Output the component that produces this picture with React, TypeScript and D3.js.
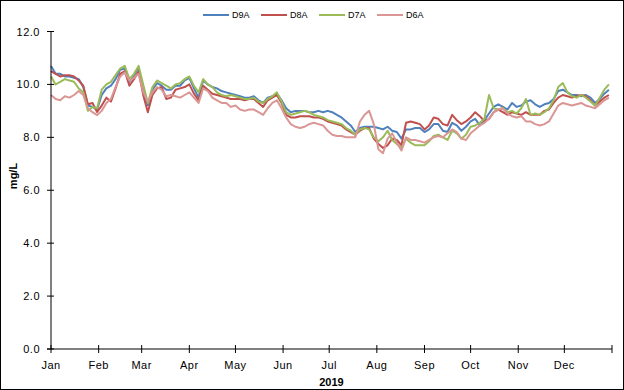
import * as d3 from "d3";

// dissolved oxygen, mg/L, one reading every 3 days through 2019
const seriesNames = ["D9A", "D8A", "D7A", "D6A"];
const seriesColors = ["#4F81BD", "#C0504D", "#9BBB59", "#D99694"];
const monthLabels = ["Jan", "Feb", "Mar", "Apr", "May", "Jun", "Jul", "Aug", "Sep", "Oct", "Nov", "Dec"];
const yTicks = [0, 2, 4, 6, 8, 10, 12];
const stepDays = 3;

const d9a = [
  10.7, 10.4, 10.4, 10.3, 10.3, 10.25, 10.2, 9.9, 9.2, 9.15, 9.05,
  9.6, 9.85, 9.95, 10.2, 10.55, 10.6, 10.1, 10.35, 10.65, 9.8, 9.2, 9.8, 10.05, 9.95,
  9.8, 9.8, 9.95, 9.95, 10.15, 10.25, 9.85, 9.5, 10.15, 10.0, 9.9, 9.85, 9.75, 9.7,
  9.65, 9.6, 9.55, 9.5, 9.5, 9.55, 9.4, 9.3, 9.5, 9.55, 9.65, 9.4, 9.1, 8.95,
  9.0, 9.0, 9.0, 8.95, 8.95, 9.0, 8.95, 9.0, 8.95, 8.85, 8.75, 8.6, 8.45, 8.2,
  8.35, 8.4, 8.4, 8.4, 8.35, 8.3, 8.4, 8.25, 8.2, 7.95, 8.3, 8.3, 8.35, 8.35,
  8.2, 8.3, 8.5, 8.5, 8.25, 8.2, 8.55, 8.45,
  8.25, 8.4, 8.6, 8.7, 8.45, 8.65, 8.9, 9.15, 9.25, 9.15, 9.05, 9.3, 9.15, 9.2,
  9.35, 9.4, 9.25, 9.15, 9.25, 9.3, 9.45, 9.75, 9.8, 9.7, 9.6, 9.6, 9.55, 9.6,
  9.5, 9.3, 9.45, 9.65, 9.8,
];
const d8a = [
  10.5, 10.4, 10.3, 10.35, 10.35, 10.3, 10.15, 9.95, 9.25, 9.3, 8.96,
  9.2, 9.5, 9.35, 9.85, 10.4, 10.5, 9.95, 10.2, 10.5, 9.6, 8.95, 9.6, 9.85, 9.9,
  9.45, 9.5, 9.8, 9.85, 9.9, 10.0, 9.65, 9.4, 9.95, 9.8, 9.65, 9.6, 9.55, 9.5,
  9.45, 9.45, 9.45, 9.4, 9.45, 9.45, 9.3, 9.15, 9.4, 9.5, 9.6, 9.3, 8.85, 8.75,
  8.75, 8.8, 8.8, 8.8, 8.75, 8.75, 8.7, 8.6, 8.55, 8.5, 8.45, 8.3, 8.2, 8.1,
  8.25, 8.35, 8.35, 7.95, 7.75, 7.6, 7.7, 7.95, 7.9, 7.7, 8.55, 8.6, 8.55, 8.5,
  8.3, 8.45, 8.75, 8.7, 8.5, 8.45, 8.85, 8.65,
  8.5, 8.6, 8.75, 8.95, 8.8, 8.6, 8.7, 8.95, 9.05, 8.95, 8.85, 8.95, 8.9, 8.85,
  8.95, 8.85, 8.85, 8.85, 9.0, 9.05, 9.3, 9.5, 9.6, 9.55, 9.5, 9.55, 9.6, 9.55,
  9.4, 9.2, 9.35, 9.5, 9.6,
];
const d7a = [
  10.3, 10.0, 10.1, 10.2, 10.15, 10.1, 9.85, 9.7, 9.0, 9.15, 9.1,
  9.8, 10.0, 10.1, 10.35, 10.6, 10.7, 10.2, 10.4, 10.7, 10.0, 9.3, 9.9, 10.15, 10.05,
  9.95, 9.85, 10.0, 10.05, 10.2, 10.3, 9.95, 9.7, 10.2, 10.0, 9.9, 9.7, 9.6, 9.55,
  9.6, 9.55, 9.5, 9.45, 9.45, 9.5, 9.35, 9.3, 9.45, 9.55, 9.7, 9.35, 8.95, 8.85,
  8.9, 8.95, 9.0, 8.95, 8.85, 8.8, 8.75, 8.65, 8.6, 8.55, 8.5, 8.35, 8.25, 8.1,
  8.3, 8.35, 8.3, 8.0, 7.85, 8.0, 8.25, 7.9, 7.75, 7.6, 7.95, 7.8, 7.7, 7.7,
  7.7, 7.85, 8.05, 8.1, 8.0, 7.9, 8.25, 8.15,
  7.95, 8.1, 8.4, 8.45, 8.55, 8.7, 9.6, 9.1, 9.05, 9.1, 8.95, 9.0, 8.9, 9.1,
  9.45, 8.85, 8.9, 8.85, 8.95, 9.1, 9.4, 9.9, 10.05, 9.7, 9.55, 9.5, 9.6, 9.5,
  9.35, 9.2, 9.5, 9.8, 10.0,
];
const d6a = [
  9.6, 9.45, 9.4, 9.55, 9.5, 9.6, 9.75, 9.6, 9.1, 8.95, 8.84,
  9.0, 9.3, 9.45, 9.9, 10.3, 10.45, 10.15, 10.25, 10.4, 9.7, 9.35, 9.7, 9.9, 9.8,
  9.55, 9.6, 9.55, 9.5, 9.6, 9.7, 9.5, 9.3, 9.85, 9.75, 9.5, 9.4, 9.3, 9.3,
  9.15, 9.2, 9.05, 9.0, 9.05, 9.05, 8.95, 8.85, 9.1, 9.3, 9.4, 9.1, 8.75, 8.5,
  8.4, 8.35, 8.4, 8.5, 8.55, 8.5, 8.45, 8.25, 8.1, 8.05, 8.05, 8.0, 8.0, 8.0,
  8.6, 8.85, 9.0, 8.5, 7.55, 7.4, 7.95, 8.15, 7.8, 7.5, 8.0, 7.9, 7.9, 7.85,
  7.8, 7.9, 8.0, 8.05, 8.0, 8.15, 8.3, 8.2,
  7.95, 7.9, 8.15, 8.3, 8.45, 8.55, 8.7, 8.95, 9.05, 9.1, 8.9, 8.8, 8.75, 8.8,
  8.6, 8.6, 8.5, 8.45, 8.5, 8.6, 8.9, 9.2, 9.3, 9.25, 9.2, 9.25, 9.3, 9.2,
  9.15, 9.1, 9.25, 9.4, 9.5,
];

const allSeries = [d9a, d8a, d7a, d6a];

const width = 624;
const height = 390;
const marginLeft = 51;
const plotRight = 612;
const plotTop = 31.5;
const plotBottom = 349;
const font = "Arial, 'Liberation Sans', sans-serif";

export default function App() {
  const start = new Date(2019, 0, 1);
  const end = new Date(2020, 0, 1);
  const x = d3.scaleTime([start, end], [marginLeft, plotRight]);
  const y = d3.scaleLinear([0, 12], [plotBottom, plotTop]);
  const dates = d9a.map((_, i) => d3.timeDay.offset(start, i * stepDays));
  const monthTicks = d3.timeMonth.range(start, d3.timeDay.offset(end, 1));

  const lineGen = d3
    .line<number>()
    .x((_, i) => x(dates[i]))
    .y((v) => y(v));

  return (
    <svg
      width={width}
      height={height}
      style={{ position: "absolute", left: 0, top: 0, background: "#fff" }}
      fontFamily={font}
    >
      <rect x={0.5} y={0.5} width={width - 1} height={height - 1} fill="#fff" stroke="#000" />

      {/* legend */}
      {seriesNames.map((name, i) => {
        const lx = 203 + i * 58;
        return (
          <g key={name}>
            <line x1={lx} x2={lx + 26} y1={15} y2={15} stroke={seriesColors[i]} strokeWidth={2} />
            <text x={lx + 29} y={18} fontSize={9} fill="#000">
              {name}
            </text>
          </g>
        );
      })}

      {/* series */}
      {allSeries.map((s, i) => (
        <path
          key={seriesNames[i]}
          d={lineGen(s) ?? ""}
          fill="none"
          stroke={seriesColors[i]}
          strokeWidth={2}
          strokeLinejoin="round"
        />
      ))}

      {/* y axis */}
      <line x1={marginLeft} x2={marginLeft} y1={plotTop} y2={plotBottom} stroke="#000" />
      {yTicks.map((t) => (
        <g key={t}>
          <line x1={marginLeft - 4} x2={marginLeft + 3} y1={y(t)} y2={y(t)} stroke="#000" />
          <text x={40} y={y(t) + 4} textAnchor="end" fontSize={11} letterSpacing={0.5} fill="#000">
            {t.toFixed(1)}
          </text>
        </g>
      ))}
      <text
        transform={`translate(17,176) rotate(-90)`}
        textAnchor="middle"
        fontSize={11}
        fontWeight="bold"
        fill="#000"
      >
        mg/L
      </text>

      {/* x axis */}
      <line x1={marginLeft - 4} x2={plotRight} y1={plotBottom} y2={plotBottom} stroke="#000" />
      {monthTicks.map((m, i) => (
        <g key={i}>
          <line x1={x(m)} x2={x(m)} y1={plotBottom - 4} y2={plotBottom + 4} stroke="#000" />
          {i < monthLabels.length && (
            <text x={x(m)} y={369} textAnchor="middle" fontSize={11} letterSpacing={0.5} fill="#000">
              {monthLabels[i]}
            </text>
          )}
        </g>
      ))}
      <text x={(marginLeft + plotRight) / 2} y={386} textAnchor="middle" fontSize={11} fontWeight="bold" fill="#000">
        2019
      </text>
    </svg>
  );
}
